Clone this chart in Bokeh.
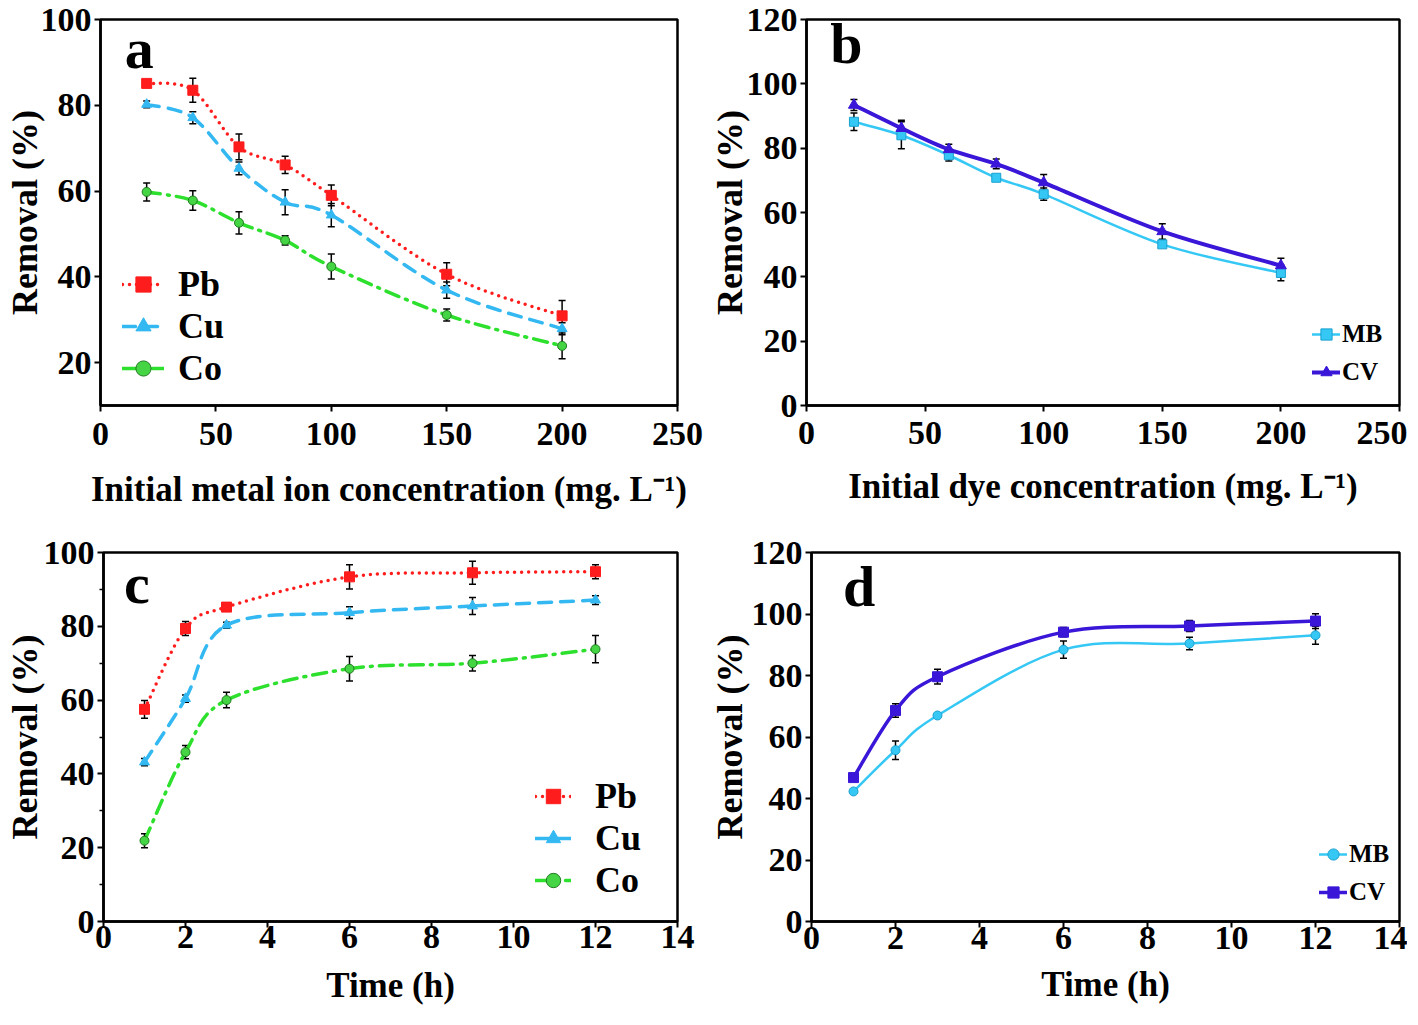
import numpy as np
from bokeh.plotting import figure
from bokeh.models import (ColumnDataSource, Range1d, Whisker, TeeHead, Legend,
                          LegendItem, Label, FixedTicker)
from bokeh.layouts import column, row
from bokeh.embed import file_html
from bokeh.resources import INLINE

# ---------------- data ----------------
conc = [20, 40, 60, 80, 100, 150, 200]
a_pb = [85.1, 83.5, 70.3, 66.1, 59.0, 40.6, 30.9]
a_pb_err = [0.3, 2.8, 3.0, 2.0, 2.4, 2.7, 3.6]
a_cu = [80.2, 77.1, 65.3, 57.4, 54.4, 36.9, 27.9]
a_cu_err = [0.8, 1.4, 1.5, 2.9, 2.7, 1.9, 1.4]
a_co = [59.8, 57.8, 52.6, 48.5, 42.4, 31.1, 23.9]
a_co_err = [2.1, 2.3, 2.6, 1.1, 2.9, 1.4, 3.0]

b_mb = [88.2, 84.0, 77.8, 70.8, 65.7, 50.1, 41.2]
b_mb_err = [2.7, 4.2, 1.8, 0.5, 1.9, 0.5, 2.4]
b_cv = [93.4, 86.2, 79.6, 75.1, 69.3, 54.1, 43.5]
b_cv_err = [1.7, 2.5, 1.6, 1.5, 2.5, 2.4, 2.3]

time_h = [1, 2, 3, 6, 9, 12]
c_pb = [57.5, 79.4, 85.2, 93.4, 94.5, 94.8]
c_pb_err = [2.4, 1.9, 0.5, 3.3, 3.1, 1.9]
c_cu = [43.2, 60.4, 80.3, 83.7, 85.5, 87.1]
c_cu_err = [1.0, 1.0, 0.8, 1.6, 2.3, 1.2]
c_co = [21.9, 45.9, 60.0, 68.5, 70.0, 73.8]
c_co_err = [1.9, 1.8, 2.1, 3.3, 2.1, 3.7]

d_mb = [42.3, 55.7, 67.0, 88.4, 90.4, 93.1]
d_mb_err = [0.4, 3.0, 0.5, 2.8, 2.0, 2.9]
d_cv = [46.8, 68.6, 79.6, 94.1, 96.1, 97.7]
d_cv_err = [1.2, 2.2, 2.4, 1.5, 1.8, 2.4]

conc_ticks = [0, 50, 100, 150, 200, 250]
time_ticks = [0, 2, 4, 6, 8, 10, 12, 14]

# ---------------- style ----------------
FONT = "Liberation Serif"
RED = "#ff1c1c"
LBLUE = "#33b8f2"
GREEN = "#2ee02e"
CYAN = "#36c8f5"
VIOLET = "#3a16d8"


def smooth_source(xs, ys):
    """Catmull-Rom -> cubic bezier control points (curve passes through data)."""
    xs = np.asarray(xs, float)
    ys = np.asarray(ys, float)
    n = len(xs)
    d = dict(x0=[], y0=[], x1=[], y1=[], cx0=[], cy0=[], cx1=[], cy1=[])
    for i in range(n - 1):
        im = max(i - 1, 0)
        ip = min(i + 2, n - 1)
        d["x0"].append(xs[i]); d["y0"].append(ys[i])
        d["x1"].append(xs[i + 1]); d["y1"].append(ys[i + 1])
        d["cx0"].append(xs[i] + (xs[i + 1] - xs[im]) / 6.0)
        d["cy0"].append(ys[i] + (ys[i + 1] - ys[im]) / 6.0)
        d["cx1"].append(xs[i + 1] - (xs[ip] - xs[i]) / 6.0)
        d["cy1"].append(ys[i + 1] - (ys[ip] - ys[i]) / 6.0)
    return ColumnDataSource(d)


def make_fig(width, height, xr, yr, xticks, yticks, borders, xlabel,
             tick_standoff_x, xlabel_standoff, ylabel_standoff, minor=None):
    l, r, t, b = borders
    p = figure(width=width, height=height, output_backend="svg",
               toolbar_location=None, x_range=Range1d(*xr), y_range=Range1d(*yr),
               min_border_left=l, min_border_right=r, min_border_top=t,
               min_border_bottom=b)
    p.xgrid.visible = False
    p.ygrid.visible = False
    p.outline_line_color = "black"
    p.outline_line_width = 2.5
    p.background_fill_color = "white"
    p.border_fill_color = "white"
    p.xaxis.ticker = FixedTicker(ticks=xticks)
    if minor is not None:
        p.yaxis.ticker = FixedTicker(ticks=yticks, minor_ticks=minor)
    else:
        p.yaxis.ticker = FixedTicker(ticks=yticks)
    for ax in (p.xaxis, p.yaxis):
        ax.axis_line_color = "black"
        ax.axis_line_width = 2.5
        ax.major_tick_line_color = "black"
        ax.major_tick_line_width = 2
        ax.major_tick_in = 0
        ax.major_tick_out = 6
        ax.minor_tick_line_color = "black"
        ax.minor_tick_line_width = 1.5
        ax.minor_tick_in = 0
        ax.minor_tick_out = 4 if minor is not None else 0
        ax.major_label_text_font = FONT
        ax.major_label_text_font_style = "bold"
        ax.major_label_text_font_size = "34px"
        ax.major_label_text_color = "black"
        ax.axis_label_text_font = FONT
        ax.axis_label_text_font_style = "bold"
        ax.axis_label_text_color = "black"
    p.yaxis.axis_label_text_font_size = "36px"
    p.xaxis.axis_label_text_font_size = "35px"
    p.xaxis.minor_tick_out = 0
    p.xaxis.axis_label = xlabel
    p.xaxis.major_label_standoff = tick_standoff_x
    p.xaxis.axis_label_standoff = xlabel_standoff
    p.yaxis.axis_label = "Removal (%)"
    p.yaxis.major_label_standoff = 3
    p.yaxis.axis_label_standoff = ylabel_standoff
    return p


def add_series(p, xs, ys, err, color, dash, lw, marker, msize, mfill, mline):
    src = smooth_source(xs, ys)
    lr = p.bezier(x0="x0", y0="y0", x1="x1", y1="y1", cx0="cx0", cy0="cy0",
                  cx1="cx1", cy1="cy1", source=src, line_color=color,
                  line_width=lw, line_dash=dash, line_cap="round")
    esrc = ColumnDataSource(dict(x=xs, y=ys,
                                 lo=[v - e for v, e in zip(ys, err)],
                                 up=[v + e for v, e in zip(ys, err)]))
    sr = p.scatter(x="x", y="y", source=esrc, marker=marker, size=msize,
                   fill_color=mfill, line_color=mline, line_width=1)
    w = Whisker(source=esrc, base="x", lower="lo", upper="up",
                line_color="black", line_width=1.5,
                lower_head=TeeHead(size=7, line_color="black", line_width=1.5),
                upper_head=TeeHead(size=7, line_color="black", line_width=1.5))
    p.add_layout(w)
    return lr, sr


def add_legend(p, items, loc, size, glyph_w, glyph_h, standoff, spacing):
    leg = Legend(items=[LegendItem(label=lab, renderers=list(rs)) for lab, rs in items],
                 location=loc, label_text_font=FONT, label_text_font_style="bold",
                 label_text_font_size=size, label_text_color="black",
                 glyph_width=glyph_w, glyph_height=glyph_h, label_standoff=standoff,
                 spacing=spacing, padding=0, margin=0,
                 background_fill_alpha=0, border_line_alpha=0, label_height=glyph_h)
    p.add_layout(leg, "center")


def add_letter(p, txt, x, y):
    p.add_layout(Label(x=x, y=y, text=txt, text_font=FONT, text_font_style="bold",
                       text_font_size="58px", text_color="black",
                       text_baseline="alphabetic"))


TOP_H = 528
BOT_H = 481

# ---------------- panel a ----------------
pa = make_fig(705, TOP_H, (0, 250), (10, 100), conc_ticks, [20, 40, 60, 80, 100],
              (100, 28, 19, 123), "Initial metal ion concentration (mg. L\u207b\u00b9)",
              11, 22, -7)
ra1 = add_series(pa, conc, a_pb, a_pb_err, RED, "0 7", 3.5, "square", 10, RED, RED)
ra2 = add_series(pa, conc, a_cu, a_cu_err, LBLUE, "13 9", 3.5, "triangle", 10, LBLUE, LBLUE)
ra3 = add_series(pa, conc, a_co, a_co_err, GREEN, "14 7 2 7", 3.5, "circle", 9, "#44d444", "#1f7a1f")
add_legend(pa, [("Pb", ra1), ("Cu", ra2), ("Co", ra3)], (22, 16), "36px", 42, 38, 14, 0)
add_letter(pa, "a", 10.5, 93.3)

# ---------------- panel b ----------------
pb = make_fig(702, TOP_H, (0, 250), (0, 120), conc_ticks, [0, 20, 40, 60, 80, 100, 120],
              (101, 8, 19, 120), "Initial dye concentration (mg. L\u207b\u00b9)",
              10, 20, -6)
rb1 = add_series(pb, conc, b_mb, b_mb_err, CYAN, "solid", 2.5, "square", 9, CYAN, "#1aa0d0")
rb2 = add_series(pb, conc, b_cv, b_cv_err, VIOLET, "solid", 4, "triangle", 11, VIOLET, VIOLET)
add_legend(pb, [("MB", rb1), ("CV", rb2)], (506, 15), "25px", 28, 36, 2, 2)
add_letter(pb, "b", 10, 112.5)

# ---------------- panel c ----------------
pc = make_fig(705, BOT_H, (0, 14), (0, 100), time_ticks, [0, 20, 40, 60, 80, 100],
              (103, 28, 24, 88), "Time (h)", -2, 15, -4, minor=[10, 30, 50, 70, 90])
rc1 = add_series(pc, time_h, c_pb, c_pb_err, RED, "0 7", 3.5, "square", 10, RED, RED)
rc2 = add_series(pc, time_h, c_cu, c_cu_err, LBLUE, "13 9", 3.5, "triangle", 10, LBLUE, LBLUE)
rc3 = add_series(pc, time_h, c_co, c_co_err, GREEN, "14 7 2 7", 3.5, "circle", 9, "#44d444", "#1f7a1f")
add_legend(pc, [("Pb", rc1), ("Cu", rc2), ("Co", rc3)], (432, 20), "36px", 36, 38, 24, 0)
add_letter(pc, "c", 0.5, 91.7)

# ---------------- panel d ----------------
pd_ = make_fig(702, BOT_H, (0, 14), (0, 120), time_ticks, [0, 20, 40, 60, 80, 100, 120],
               (106, 8, 22, 85), "Time (h)", -1, 13, -1)
rd1 = add_series(pd_, time_h, d_mb, d_mb_err, CYAN, "solid", 2.5, "circle", 9, CYAN, "#1aa0d0")
rd2 = add_series(pd_, time_h, d_cv, d_cv_err, VIOLET, "solid", 3.5, "square", 10, VIOLET, VIOLET)
add_legend(pd_, [("MB", rd1), ("CV", rd2)], (508, 11), "25px", 28, 36, 2, 2)
add_letter(pd_, "d", 0.75, 109)

layout = column(row(pa, pb), row(pc, pd_))
open("out.html", "w").write(file_html(layout, INLINE))
